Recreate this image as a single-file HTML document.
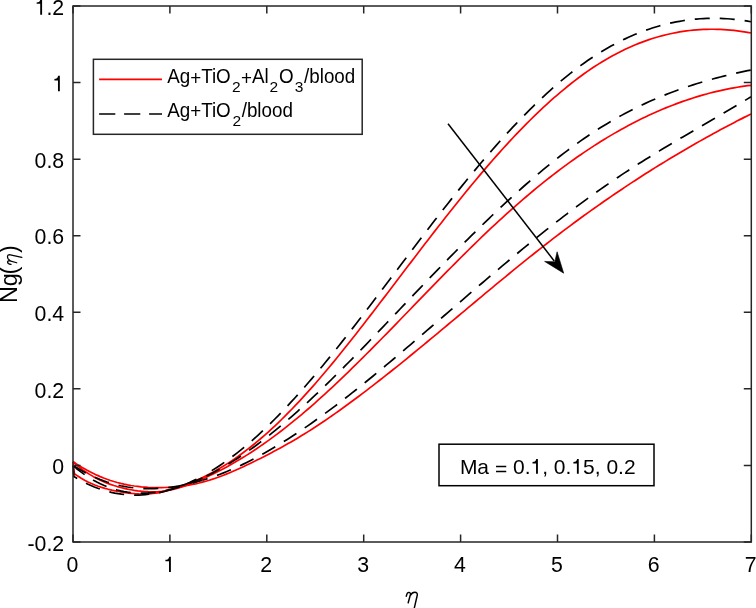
<!DOCTYPE html>
<html><head><meta charset="utf-8"><style>
html,body{margin:0;padding:0;background:#fff;width:756px;height:608px;overflow:hidden}
svg{display:block;will-change:transform}
text{font-family:'Liberation Sans',sans-serif}
</style></head><body>
<svg width="756" height="608" viewBox="0 0 756 608">
<rect x="0" y="0" width="756" height="608" fill="#fff"/>
<g fill="none" stroke-width="1.7" stroke-linejoin="round">
<path d="M73.00,461.57 L76.41,463.87 L79.81,466.05 L83.22,468.11 L86.63,470.04 L90.04,471.86 L93.44,473.56 L96.85,475.15 L100.26,476.63 L103.66,478.01 L107.07,479.28 L110.48,480.45 L113.88,481.52 L117.29,482.49 L120.70,483.37 L124.11,484.16 L127.51,484.86 L130.92,485.48 L134.33,486.01 L137.73,486.46 L141.14,486.84 L144.55,487.14 L147.95,487.37 L151.36,487.52 L154.77,487.61 L158.18,487.64 L161.58,487.61 L164.99,487.51 L168.40,487.36 L171.80,487.15 L175.21,486.88 L178.62,486.55 L182.03,486.15 L185.43,485.68 L188.84,485.14 L192.25,484.51 L195.65,483.81 L199.06,483.02 L202.47,482.15 L205.87,481.21 L209.28,480.19 L212.69,479.10 L216.10,477.94 L219.50,476.72 L222.91,475.44 L226.32,474.11 L229.72,472.72 L233.13,471.28 L236.54,469.80 L239.94,468.27 L243.35,466.70 L246.76,465.10 L250.17,463.47 L253.57,461.80 L256.98,460.11 L260.39,458.40 L263.79,456.67 L267.20,454.92 L270.61,453.14 L274.02,451.34 L277.42,449.51 L280.83,447.66 L284.24,445.77 L287.64,443.85 L291.05,441.90 L294.46,439.92 L297.86,437.90 L301.27,435.84 L304.68,433.74 L308.09,431.61 L311.49,429.44 L314.90,427.23 L318.31,425.00 L321.71,422.73 L325.12,420.43 L328.53,418.10 L331.93,415.74 L335.34,413.35 L338.75,410.94 L342.16,408.50 L345.56,406.03 L348.97,403.55 L352.38,401.04 L355.78,398.51 L359.19,395.96 L362.60,393.39 L366.01,390.81 L369.41,388.20 L372.82,385.58 L376.23,382.94 L379.63,380.28 L383.04,377.61 L386.45,374.93 L389.85,372.23 L393.26,369.51 L396.67,366.79 L400.08,364.05 L403.48,361.30 L406.89,358.54 L410.30,355.76 L413.70,352.98 L417.11,350.19 L420.52,347.39 L423.92,344.59 L427.33,341.77 L430.74,338.95 L434.15,336.12 L437.55,333.29 L440.96,330.46 L444.37,327.62 L447.77,324.77 L451.18,321.93 L454.59,319.08 L457.99,316.23 L461.40,313.38 L464.81,310.53 L468.22,307.68 L471.62,304.83 L475.03,301.98 L478.44,299.13 L481.84,296.29 L485.25,293.45 L488.66,290.62 L492.07,287.79 L495.47,284.97 L498.88,282.15 L502.29,279.34 L505.69,276.54 L509.10,273.74 L512.51,270.96 L515.91,268.18 L519.32,265.42 L522.73,262.66 L526.14,259.92 L529.54,257.19 L532.95,254.47 L536.36,251.76 L539.76,249.07 L543.17,246.39 L546.58,243.73 L549.98,241.08 L553.39,238.45 L556.80,235.84 L560.21,233.24 L563.61,230.66 L567.02,228.10 L570.43,225.56 L573.83,223.03 L577.24,220.52 L580.65,218.03 L584.06,215.56 L587.46,213.10 L590.87,210.66 L594.28,208.23 L597.68,205.82 L601.09,203.43 L604.50,201.06 L607.90,198.70 L611.31,196.36 L614.72,194.03 L618.13,191.73 L621.53,189.43 L624.94,187.16 L628.35,184.90 L631.75,182.66 L635.16,180.43 L638.57,178.22 L641.97,176.02 L645.38,173.84 L648.79,171.68 L652.20,169.53 L655.60,167.40 L659.01,165.29 L662.42,163.19 L665.82,161.11 L669.23,159.04 L672.64,156.98 L676.05,154.95 L679.45,152.93 L682.86,150.92 L686.27,148.93 L689.67,146.95 L693.08,144.99 L696.49,143.05 L699.89,141.12 L703.30,139.20 L706.71,137.30 L710.12,135.42 L713.52,133.55 L716.93,131.69 L720.34,129.85 L723.74,128.03 L727.15,126.22 L730.56,124.42 L733.96,122.64 L737.37,120.87 L740.78,119.12 L744.19,117.38 L747.59,115.66 L751.00,113.95" stroke="#f00"/>
<path d="M73.00,461.81 L76.41,464.77 L79.81,467.52 L83.22,470.08 L86.63,472.44 L90.04,474.63 L93.44,476.64 L96.85,478.48 L100.26,480.17 L103.66,481.71 L107.07,483.11 L110.48,484.38 L113.88,485.53 L117.29,486.56 L120.70,487.49 L124.11,488.32 L127.51,489.06 L130.92,489.71 L134.33,490.29 L137.73,490.79 L141.14,491.19 L144.55,491.50 L147.95,491.70 L151.36,491.79 L154.77,491.77 L158.18,491.62 L161.58,491.34 L164.99,490.92 L168.40,490.35 L171.80,489.65 L175.21,488.82 L178.62,487.87 L182.03,486.82 L185.43,485.67 L188.84,484.45 L192.25,483.15 L195.65,481.79 L199.06,480.38 L202.47,478.91 L205.87,477.39 L209.28,475.82 L212.69,474.19 L216.10,472.51 L219.50,470.78 L222.91,468.99 L226.32,467.16 L229.72,465.28 L233.13,463.34 L236.54,461.36 L239.94,459.32 L243.35,457.24 L246.76,455.11 L250.17,452.93 L253.57,450.70 L256.98,448.43 L260.39,446.11 L263.79,443.74 L267.20,441.33 L270.61,438.88 L274.02,436.37 L277.42,433.83 L280.83,431.24 L284.24,428.60 L287.64,425.93 L291.05,423.21 L294.46,420.45 L297.86,417.64 L301.27,414.80 L304.68,411.91 L308.09,408.99 L311.49,406.03 L314.90,403.03 L318.31,399.99 L321.71,396.93 L325.12,393.82 L328.53,390.69 L331.93,387.53 L335.34,384.34 L338.75,381.12 L342.16,377.87 L345.56,374.60 L348.97,371.30 L352.38,367.98 L355.78,364.64 L359.19,361.27 L362.60,357.89 L366.01,354.49 L369.41,351.08 L372.82,347.65 L376.23,344.20 L379.63,340.74 L383.04,337.27 L386.45,333.79 L389.85,330.30 L393.26,326.80 L396.67,323.29 L400.08,319.78 L403.48,316.26 L406.89,312.74 L410.30,309.22 L413.70,305.70 L417.11,302.18 L420.52,298.66 L423.92,295.14 L427.33,291.63 L430.74,288.12 L434.15,284.62 L437.55,281.13 L440.96,277.64 L444.37,274.17 L447.77,270.71 L451.18,267.26 L454.59,263.82 L457.99,260.40 L461.40,257.00 L464.81,253.61 L468.22,250.24 L471.62,246.88 L475.03,243.55 L478.44,240.24 L481.84,236.95 L485.25,233.69 L488.66,230.45 L492.07,227.24 L495.47,224.05 L498.88,220.90 L502.29,217.77 L505.69,214.67 L509.10,211.60 L512.51,208.56 L515.91,205.56 L519.32,202.58 L522.73,199.64 L526.14,196.73 L529.54,193.85 L532.95,191.00 L536.36,188.19 L539.76,185.40 L543.17,182.66 L546.58,179.94 L549.98,177.26 L553.39,174.61 L556.80,172.00 L560.21,169.42 L563.61,166.88 L567.02,164.37 L570.43,161.90 L573.83,159.47 L577.24,157.07 L580.65,154.71 L584.06,152.38 L587.46,150.09 L590.87,147.84 L594.28,145.63 L597.68,143.45 L601.09,141.31 L604.50,139.21 L607.90,137.14 L611.31,135.12 L614.72,133.13 L618.13,131.18 L621.53,129.27 L624.94,127.39 L628.35,125.56 L631.75,123.76 L635.16,122.00 L638.57,120.28 L641.97,118.59 L645.38,116.95 L648.79,115.34 L652.20,113.77 L655.60,112.24 L659.01,110.75 L662.42,109.30 L665.82,107.89 L669.23,106.51 L672.64,105.18 L676.05,103.88 L679.45,102.62 L682.86,101.40 L686.27,100.22 L689.67,99.08 L693.08,97.98 L696.49,96.91 L699.89,95.89 L703.30,94.90 L706.71,93.96 L710.12,93.05 L713.52,92.19 L716.93,91.36 L720.34,90.57 L723.74,89.83 L727.15,89.12 L730.56,88.45 L733.96,87.82 L737.37,87.24 L740.78,86.69 L744.19,86.18 L747.59,85.71 L751.00,85.29" stroke="#f00"/>
<path d="M73.00,461.80 L74.40,473.73 L77.80,476.09 L81.20,478.24 L84.60,480.19 L88.00,481.95 L91.40,483.53 L94.80,484.96 L98.20,486.23 L101.60,487.37 L105.00,488.39 L108.40,489.30 L111.80,490.12 L115.20,490.85 L118.60,491.51 L122.00,492.11 L125.40,492.63 L128.80,493.09 L132.20,493.45 L135.60,493.73 L139.00,493.91 L142.40,493.99 L145.80,493.95 L149.20,493.80 L152.60,493.52 L156.00,493.11 L159.40,492.56 L162.80,491.86 L166.20,491.01 L169.60,490.01 L173.00,488.88 L176.40,487.67 L179.80,486.42 L183.20,485.17 L186.60,483.93 L190.00,482.67 L193.40,481.35 L196.80,479.96 L200.20,478.49 L203.60,476.92 L207.00,475.27 L210.40,473.54 L213.80,471.72 L217.20,469.82 L220.60,467.84 L224.00,465.78 L227.40,463.64 L230.80,461.42 L234.20,459.12 L237.60,456.74 L241.00,454.29 L244.40,451.76 L247.80,449.16 L251.20,446.48 L254.60,443.73 L258.00,440.91 L261.40,438.02 L264.80,435.06 L268.20,432.03 L271.60,428.93 L275.00,425.77 L278.40,422.54 L281.80,419.24 L285.20,415.88 L288.60,412.46 L292.00,408.98 L295.40,405.43 L298.80,401.82 L302.20,398.16 L305.60,394.44 L309.00,390.66 L312.40,386.83 L315.80,382.94 L319.20,379.01 L322.60,375.04 L326.00,371.01 L329.40,366.95 L332.80,362.84 L336.20,358.70 L339.60,354.52 L343.00,350.30 L346.40,346.06 L349.80,341.78 L353.20,337.48 L356.60,333.15 L360.00,328.80 L363.40,324.43 L366.80,320.03 L370.20,315.63 L373.60,311.20 L377.00,306.76 L380.40,302.32 L383.80,297.86 L387.20,293.40 L390.60,288.93 L394.00,284.47 L397.40,279.99 L400.80,275.52 L404.20,271.05 L407.60,266.59 L411.00,262.12 L414.40,257.67 L417.80,253.22 L421.20,248.78 L424.60,244.35 L428.00,239.93 L431.40,235.53 L434.80,231.14 L438.20,226.77 L441.60,222.41 L445.00,218.08 L448.40,213.76 L451.80,209.47 L455.20,205.20 L458.60,200.96 L462.00,196.74 L465.40,192.56 L468.80,188.40 L472.20,184.27 L475.60,180.18 L479.00,176.12 L482.40,172.10 L485.80,168.11 L489.20,164.17 L492.60,160.26 L496.00,156.39 L499.40,152.57 L502.80,148.79 L506.20,145.06 L509.60,141.37 L513.00,137.73 L516.40,134.14 L519.80,130.59 L523.20,127.09 L526.60,123.65 L530.00,120.25 L533.40,116.91 L536.80,113.61 L540.20,110.38 L543.60,107.19 L547.00,104.06 L550.40,100.99 L553.80,97.97 L557.20,95.02 L560.60,92.12 L564.00,89.28 L567.40,86.50 L570.80,83.78 L574.20,81.13 L577.60,78.53 L581.00,76.01 L584.40,73.54 L587.80,71.15 L591.20,68.82 L594.60,66.56 L598.00,64.36 L601.40,62.24 L604.80,60.18 L608.20,58.20 L611.60,56.28 L615.00,54.44 L618.40,52.66 L621.80,50.95 L625.20,49.30 L628.60,47.73 L632.00,46.22 L635.40,44.78 L638.80,43.40 L642.20,42.09 L645.60,40.85 L649.00,39.67 L652.40,38.56 L655.80,37.51 L659.20,36.53 L662.60,35.61 L666.00,34.75 L669.40,33.96 L672.80,33.23 L676.20,32.56 L679.60,31.96 L683.00,31.41 L686.40,30.93 L689.80,30.51 L693.20,30.15 L696.60,29.86 L700.00,29.62 L703.40,29.44 L706.80,29.32 L710.20,29.26 L713.60,29.26 L717.00,29.32 L720.40,29.43 L723.80,29.60 L727.20,29.84 L730.60,30.12 L734.00,30.47 L737.40,30.87 L740.80,31.33 L744.20,31.84 L747.60,32.41 L751.00,33.03" stroke="#f00"/>
<path d="M73.00,465.17 L76.41,467.38 L79.81,469.48 L83.22,471.45 L86.63,473.30 L90.04,475.03 L93.44,476.65 L96.85,478.16 L100.26,479.55 L103.66,480.84 L107.07,482.02 L110.48,483.10 L113.88,484.07 L117.29,484.95 L120.70,485.72 L124.11,486.40 L127.51,486.99 L130.92,487.49 L134.33,487.89 L137.73,488.21 L141.14,488.45 L144.55,488.60 L147.95,488.67 L151.36,488.66 L154.77,488.57 L158.18,488.41 L161.58,488.18 L164.99,487.87 L168.40,487.50 L171.80,487.07 L175.21,486.56 L178.62,485.99 L182.03,485.36 L185.43,484.66 L188.84,483.91 L192.25,483.09 L195.65,482.21 L199.06,481.27 L202.47,480.27" stroke="#000" stroke-dasharray="15.0 10.0" stroke-dashoffset="24.94"/><path d="M202.47,480.27 L205.87,479.22 L209.28,478.11 L212.69,476.95 L216.10,475.73 L219.50,474.45 L222.91,473.13 L226.32,471.75 L229.72,470.32 L233.13,468.84 L236.54,467.31 L239.94,465.74 L243.35,464.12 L246.76,462.45 L250.17,460.73 L253.57,458.98 L256.98,457.17 L260.39,455.33 L263.79,453.45 L267.20,451.52 L270.61,449.56 L274.02,447.55 L277.42,445.51 L280.83,443.44 L284.24,441.32 L287.64,439.17 L291.05,436.99 L294.46,434.77 L297.86,432.52 L301.27,430.24 L304.68,427.93 L308.09,425.58 L311.49,423.21 L314.90,420.80 L318.31,418.37 L321.71,415.91 L325.12,413.43 L328.53,410.92 L331.93,408.38 L335.34,405.82 L338.75,403.23 L342.16,400.62 L345.56,397.99 L348.97,395.34 L352.38,392.67 L355.78,389.97 L359.19,387.26 L362.60,384.53 L366.01,381.78 L369.41,379.02 L372.82,376.24 L376.23,373.44 L379.63,370.63 L383.04,367.81 L386.45,364.97 L389.85,362.12 L393.26,359.26 L396.67,356.39 L400.08,353.50 L403.48,350.61 L406.89,347.71 L410.30,344.81 L413.70,341.89 L417.11,338.97 L420.52,336.05 L423.92,333.12 L427.33,330.19 L430.74,327.25 L434.15,324.31 L437.55,321.37 L440.96,318.43 L444.37,315.49 L447.77,312.55 L451.18,309.61 L454.59,306.67 L457.99,303.73 L461.40,300.80 L464.81,297.86 L468.22,294.93 L471.62,292.01 L475.03,289.09 L478.44,286.17 L481.84,283.26 L485.25,280.36 L488.66,277.46 L492.07,274.57 L495.47,271.68 L498.88,268.81 L502.29,265.94 L505.69,263.08 L509.10,260.24 L512.51,257.40 L515.91,254.57 L519.32,251.76 L522.73,248.95 L526.14,246.16 L529.54,243.38 L532.95,240.62 L536.36,237.87 L539.76,235.13 L543.17,232.41 L546.58,229.70 L549.98,227.01 L553.39,224.34 L556.80,221.68 L560.21,219.05 L563.61,216.43 L567.02,213.82 L570.43,211.24 L573.83,208.68 L577.24,206.14 L580.65,203.61 L584.06,201.11 L587.46,198.63 L590.87,196.16 L594.28,193.72 L597.68,191.30 L601.09,188.89 L604.50,186.51 L607.90,184.15 L611.31,181.81 L614.72,179.49 L618.13,177.19 L621.53,174.91 L624.94,172.65 L628.35,170.42 L631.75,168.20 L635.16,166.01 L638.57,163.83 L641.97,161.68 L645.38,159.54 L648.79,157.41 L652.20,155.31 L655.60,153.22 L659.01,151.14 L662.42,149.07 L665.82,147.02 L669.23,144.98 L672.64,142.95 L676.05,140.93 L679.45,138.91 L682.86,136.91 L686.27,134.91 L689.67,132.91 L693.08,130.92 L696.49,128.93 L699.89,126.95 L703.30,124.96 L706.71,122.98 L710.12,121.00 L713.52,119.01 L716.93,117.03 L720.34,115.04 L723.74,113.04 L727.15,111.04 L730.56,109.04 L733.96,107.03 L737.37,105.01 L740.78,102.98 L744.19,100.94 L747.59,98.89 L751.00,96.83" stroke="#000" stroke-dasharray="15.0 10.0" stroke-dashoffset="9.67"/><path d="M73.00,465.61 L76.41,468.46 L79.81,471.14 L83.22,473.65 L86.63,476.00 L90.04,478.17 L93.44,480.19 L96.85,482.04 L100.26,483.74 L103.66,485.29 L107.07,486.69 L110.48,487.94 L113.88,489.05 L117.29,490.02 L120.70,490.85 L124.11,491.55 L127.51,492.12 L130.92,492.56 L134.33,492.87 L137.73,493.07 L141.14,493.15 L144.55,493.11 L147.95,492.96 L151.36,492.70 L154.77,492.34 L158.18,491.88 L161.58,491.32 L164.99,490.66 L168.40,489.91 L171.80,489.07 L175.21,488.14 L178.62,487.13 L182.03,486.04 L185.43,484.88 L188.84,483.63 L192.25,482.32 L195.65,480.93 L199.06,479.46 L202.47,477.93" stroke="#000" stroke-dasharray="15.0 10.0" stroke-dashoffset="0.32"/><path d="M202.47,477.93 L205.87,476.33 L209.28,474.65 L212.69,472.91 L216.10,471.11 L219.50,469.24 L222.91,467.30 L226.32,465.31 L229.72,463.25 L233.13,461.13 L236.54,458.95 L239.94,456.71 L243.35,454.42 L246.76,452.07 L250.17,449.67 L253.57,447.22 L256.98,444.71 L260.39,442.16 L263.79,439.55 L267.20,436.90 L270.61,434.20 L274.02,431.45 L277.42,428.66 L280.83,425.83 L284.24,422.95 L287.64,420.04 L291.05,417.08 L294.46,414.09 L297.86,411.06 L301.27,407.99 L304.68,404.89 L308.09,401.76 L311.49,398.59 L314.90,395.40 L318.31,392.17 L321.71,388.92 L325.12,385.63 L328.53,382.33 L331.93,378.99 L335.34,375.64 L338.75,372.26 L342.16,368.86 L345.56,365.43 L348.97,362.00 L352.38,358.54 L355.78,355.07 L359.19,351.58 L362.60,348.07 L366.01,344.56 L369.41,341.03 L372.82,337.50 L376.23,333.95 L379.63,330.40 L383.04,326.84 L386.45,323.27 L389.85,319.70 L393.26,316.13 L396.67,312.55 L400.08,308.98 L403.48,305.40 L406.89,301.83 L410.30,298.26 L413.70,294.69 L417.11,291.13 L420.52,287.58 L423.92,284.03 L427.33,280.48 L430.74,276.95 L434.15,273.42 L437.55,269.90 L440.96,266.39 L444.37,262.90 L447.77,259.41 L451.18,255.94 L454.59,252.48 L457.99,249.03 L461.40,245.60 L464.81,242.18 L468.22,238.78 L471.62,235.40 L475.03,232.04 L478.44,228.69 L481.84,225.36 L485.25,222.06 L488.66,218.77 L492.07,215.51 L495.47,212.27 L498.88,209.05 L502.29,205.86 L505.69,202.69 L509.10,199.55 L512.51,196.43 L515.91,193.34 L519.32,190.28 L522.73,187.25 L526.14,184.25 L529.54,181.28 L532.95,178.34 L536.36,175.43 L539.76,172.55 L543.17,169.71 L546.58,166.91 L549.98,164.13 L553.39,161.40 L556.80,158.70 L560.21,156.04 L563.61,153.41 L567.02,150.83 L570.43,148.29 L573.83,145.78 L577.24,143.32 L580.65,140.90 L584.06,138.52 L587.46,136.19 L590.87,133.90 L594.28,131.66 L597.68,129.46 L601.09,127.32 L604.50,125.21 L607.90,123.16 L611.31,121.14 L614.72,119.18 L618.13,117.25 L621.53,115.37 L624.94,113.54 L628.35,111.74 L631.75,109.99 L635.16,108.28 L638.57,106.61 L641.97,104.97 L645.38,103.38 L648.79,101.83 L652.20,100.31 L655.60,98.83 L659.01,97.39 L662.42,95.98 L665.82,94.61 L669.23,93.27 L672.64,91.97 L676.05,90.70 L679.45,89.47 L682.86,88.26 L686.27,87.09 L689.67,85.95 L693.08,84.84 L696.49,83.76 L699.89,82.71 L703.30,81.68 L706.71,80.69 L710.12,79.72 L713.52,78.78 L716.93,77.86 L720.34,76.97 L723.74,76.11 L727.15,75.27 L730.56,74.45 L733.96,73.66 L737.37,72.88 L740.78,72.13 L744.19,71.41 L747.59,70.70 L751.00,70.01" stroke="#000" stroke-dasharray="15.0 10.0" stroke-dashoffset="20.74"/><path d="M73.00,465.00 L73.90,476.40 L77.30,478.48 L80.71,480.42 L84.11,482.24 L87.51,483.93 L90.91,485.50 L94.32,486.94 L97.72,488.26 L101.12,489.46 L104.52,490.54 L107.93,491.50 L111.33,492.34 L114.73,493.07 L118.13,493.68 L121.54,494.18 L124.94,494.57 L128.34,494.85 L131.74,495.01 L135.15,495.07 L138.55,495.03 L141.95,494.88 L145.35,494.62 L148.76,494.26 L152.16,493.81 L155.56,493.25 L158.96,492.59 L162.37,491.83 L165.77,490.98 L169.17,490.04 L172.57,489.00 L175.98,487.87 L179.38,486.65 L182.78,485.33 L186.18,483.93 L189.59,482.44 L192.99,480.86 L196.39,479.20 L199.79,477.45 L203.20,475.61" stroke="#000" stroke-dasharray="15.0 10.0" stroke-dashoffset="24.68"/><path d="M203.20,475.61 L206.60,473.69 L210.00,471.69 L213.40,469.61 L216.81,467.44 L220.21,465.20 L223.61,462.88 L227.01,460.48 L230.42,458.00 L233.82,455.45 L237.22,452.82 L240.62,450.12 L244.03,447.35 L247.43,444.50 L250.83,441.59 L254.23,438.60 L257.64,435.54 L261.04,432.42 L264.44,429.23 L267.84,425.97 L271.25,422.65 L274.65,419.27 L278.05,415.82 L281.45,412.32 L284.86,408.75 L288.26,405.13 L291.66,401.45 L295.06,397.72 L298.47,393.94 L301.87,390.11 L305.27,386.23 L308.67,382.31 L312.08,378.34 L315.48,374.32 L318.88,370.27 L322.28,366.18 L325.69,362.05 L329.09,357.88 L332.49,353.68 L335.89,349.45 L339.30,345.19 L342.70,340.90 L346.10,336.58 L349.50,332.24 L352.91,327.87 L356.31,323.48 L359.71,319.07 L363.11,314.65 L366.52,310.20 L369.92,305.74 L373.32,301.27 L376.72,296.79 L380.13,292.30 L383.53,287.80 L386.93,283.30 L390.33,278.79 L393.74,274.27 L397.14,269.76 L400.54,265.25 L403.94,260.74 L407.35,256.23 L410.75,251.74 L414.15,247.25 L417.55,242.76 L420.96,238.29 L424.36,233.84 L427.76,229.40 L431.16,224.97 L434.57,220.57 L437.97,216.18 L441.37,211.82 L444.77,207.47 L448.18,203.16 L451.58,198.86 L454.98,194.60 L458.38,190.36 L461.79,186.15 L465.19,181.97 L468.59,177.82 L471.99,173.70 L475.40,169.61 L478.80,165.56 L482.20,161.55 L485.60,157.57 L489.01,153.62 L492.41,149.72 L495.81,145.86 L499.21,142.03 L502.62,138.25 L506.02,134.51 L509.42,130.82 L512.82,127.17 L516.23,123.56 L519.63,120.01 L523.03,116.50 L526.43,113.04 L529.84,109.64 L533.24,106.28 L536.64,102.98 L540.04,99.73 L543.45,96.54 L546.85,93.40 L550.25,90.32 L553.65,87.30 L557.06,84.34 L560.46,81.44 L563.86,78.60 L567.26,75.83 L570.67,73.12 L574.07,70.47 L577.47,67.89 L580.87,65.38 L584.28,62.94 L587.68,60.57 L591.08,58.26 L594.48,56.02 L597.89,53.85 L601.29,51.74 L604.69,49.71 L608.09,47.74 L611.50,45.83 L614.90,43.99 L618.30,42.22 L621.70,40.51 L625.11,38.87 L628.51,37.30 L631.91,35.78 L635.31,34.34 L638.72,32.95 L642.12,31.64 L645.52,30.38 L648.92,29.19 L652.33,28.06 L655.73,27.00 L659.13,25.99 L662.53,25.05 L665.94,24.18 L669.34,23.36 L672.74,22.61 L676.14,21.92 L679.55,21.29 L682.95,20.72 L686.35,20.21 L689.75,19.76 L693.16,19.37 L696.56,19.04 L699.96,18.77 L703.36,18.56 L706.77,18.41 L710.17,18.32 L713.57,18.29 L716.97,18.31 L720.38,18.40 L723.78,18.54 L727.18,18.74 L730.58,19.00 L733.99,19.31 L737.39,19.68 L740.79,20.11 L744.19,20.59 L747.60,21.13 L751.00,21.73" stroke="#000" stroke-dasharray="15.0 10.0" stroke-dashoffset="15.14"/>
</g>
<g stroke="#262626" stroke-width="1.5" fill="none">
<rect x="73.0" y="6.0" width="678.3" height="536.0"/>
<path d="M73.00,542.0V534.5M73.00,6.0V13.5M169.90,542.0V534.5M169.90,6.0V13.5M266.80,542.0V534.5M266.80,6.0V13.5M363.70,542.0V534.5M363.70,6.0V13.5M460.60,542.0V534.5M460.60,6.0V13.5M557.50,542.0V534.5M557.50,6.0V13.5M654.40,542.0V534.5M654.40,6.0V13.5M751.30,542.0V534.5M751.30,6.0V13.5M73.0,542.00H80.5M751.3,542.00H743.8M73.0,465.43H80.5M751.3,465.43H743.8M73.0,388.86H80.5M751.3,388.86H743.8M73.0,312.29H80.5M751.3,312.29H743.8M73.0,235.71H80.5M751.3,235.71H743.8M73.0,159.14H80.5M751.3,159.14H743.8M73.0,82.57H80.5M751.3,82.57H743.8M73.0,6.00H80.5M751.3,6.00H743.8"/>
</g>
<g font-size="21.3" fill="#000">
<g transform="matrix(1,0,0,1.03,0,-16.521)"><text x="27.50" y="550.70" font-size="21.3">-0.2</text></g><g transform="matrix(1,0,0,1.03,0,-14.224)"><text x="52.35" y="474.13" font-size="21.3">0</text></g><g transform="matrix(1,0,0,1.03,0,-11.927)"><text x="34.59" y="397.56" font-size="21.3">0.2</text></g><g transform="matrix(1,0,0,1.03,0,-9.630)"><text x="34.59" y="320.99" font-size="21.3">0.4</text></g><g transform="matrix(1,0,0,1.03,0,-7.332)"><text x="34.59" y="244.41" font-size="21.3">0.6</text></g><g transform="matrix(1,0,0,1.03,0,-5.035)"><text x="34.59" y="167.84" font-size="21.3">0.8</text></g><g transform="matrix(1,0,0,1.03,0,-2.738)"><path transform="matrix(0.02130,0,0,-0.02130,52.35,91.27)" d="M352,0 L264,0 L264,496 L96,496 L96,560 C190,562 252,586 273,703 L352,703 Z"/></g><g transform="matrix(1,0,0,1.03,0,-0.441)"><path transform="matrix(0.02130,0,0,-0.02130,34.59,14.70)" d="M352,0 L264,0 L264,496 L96,496 L96,560 C190,562 252,586 273,703 L352,703 Z"/><text x="46.44" y="14.70" font-size="21.3">.2</text></g>
<g transform="matrix(1,0,0,1.03,0,-17.163)"><text x="66.48" y="572.10" font-size="21.3">0</text></g><g transform="matrix(1,0,0,1.03,0,-17.163)"><path transform="matrix(0.02130,0,0,-0.02130,163.38,572.10)" d="M352,0 L264,0 L264,496 L96,496 L96,560 C190,562 252,586 273,703 L352,703 Z"/></g><g transform="matrix(1,0,0,1.03,0,-17.163)"><text x="260.28" y="572.10" font-size="21.3">2</text></g><g transform="matrix(1,0,0,1.03,0,-17.163)"><text x="357.18" y="572.10" font-size="21.3">3</text></g><g transform="matrix(1,0,0,1.03,0,-17.163)"><text x="454.08" y="572.10" font-size="21.3">4</text></g><g transform="matrix(1,0,0,1.03,0,-17.163)"><text x="550.98" y="572.10" font-size="21.3">5</text></g><g transform="matrix(1,0,0,1.03,0,-17.163)"><text x="647.88" y="572.10" font-size="21.3">6</text></g><g transform="matrix(1,0,0,1.03,0,-17.163)"><text x="744.78" y="572.10" font-size="21.3">7</text></g>
</g>
<!-- legend -->
<rect x="93.4" y="59.3" width="268.8" height="75" fill="#fff" stroke="#262626" stroke-width="1.5"/>
<line x1="99.1" y1="79.4" x2="162" y2="79.4" stroke="#f00" stroke-width="1.7"/>
<line x1="99.1" y1="114" x2="162" y2="114" stroke="#000" stroke-width="1.55" stroke-dasharray="16.2 8.8"/>
<g fill="#000"><g transform="matrix(1,0,0,1.036,0,-2.981)"><text x="167.16" y="82.80" font-size="18.8">Ag</text><text x="190.16" y="84.53" font-size="18.8">+</text><text x="201.14" y="82.80" font-size="18.8">TiO</text></g><text x="232.02" y="92.00" font-size="15.5">2</text><g transform="matrix(1,0,0,1.036,0,-2.981)"><text x="241.08" y="84.53" font-size="18.8">+</text><text x="252.06" y="82.80" font-size="18.8">Al</text></g><text x="269.62" y="92.00" font-size="15.5">2</text><g transform="matrix(1,0,0,1.036,0,-2.981)"><text x="279.01" y="82.80" font-size="18.8">O</text></g><text x="294.81" y="92.00" font-size="15.5">3</text><g transform="matrix(1,0,0,1.036,0,-2.981)"><text x="304.10" y="82.80" font-size="18.8">/blood</text></g><g transform="matrix(1,0,0,1.036,0,-4.198)"><text x="167.16" y="116.60" font-size="18.8">Ag</text><text x="190.16" y="118.33" font-size="18.8">+</text><text x="201.14" y="116.60" font-size="18.8">TiO</text></g><text x="232.42" y="125.60" font-size="15.5">2</text><g transform="matrix(1,0,0,1.036,0,-4.198)"><text x="241.70" y="116.60" font-size="18.8">/blood</text></g></g>
<!-- annotation -->
<rect x="439" y="444.2" width="215" height="41.5" fill="#fff" stroke="#000" stroke-width="1.5"/>
<g fill="#000"><text x="459.88" y="473.80" font-size="21.0">Ma</text><text x="494.88" y="475.50" font-size="21.0">=</text><text x="512.98" y="473.80" font-size="21.0">0.</text><path transform="matrix(0.02100,0,0,-0.02100,530.50,473.80)" d="M352,0 L264,0 L264,496 L96,496 L96,560 C190,562 252,586 273,703 L352,703 Z"/><text x="542.18" y="473.80" font-size="21.0">, 0.</text><path transform="matrix(0.02100,0,0,-0.02100,571.36,473.80)" d="M352,0 L264,0 L264,496 L96,496 L96,560 C190,562 252,586 273,703 L352,703 Z"/><text x="583.04" y="473.80" font-size="21.0">5, 0.2</text></g>
<!-- arrow -->
<line x1="448.0" y1="123.75" x2="554.21" y2="260.94" stroke="#000" stroke-width="1.5"/>
<path d="M563.70,273.20 L557.09,251.76 L554.82,261.73 L544.60,261.43 Z" fill="#000" stroke="#000" stroke-width="0.6" stroke-linejoin="miter"/>
<!-- axis labels -->
<path d="M406.30,596.20 C406.80,593.50 408.00,592.20 409.20,592.40 C410.30,592.60 410.60,593.60 410.30,595.00 L408.20,602.70 M410.60,595.20 C411.50,593.30 413.00,592.20 414.80,592.20 C416.80,592.20 417.60,593.60 417.20,595.50 L414.20,608.50" fill="none" stroke="#000" stroke-width="1.45" stroke-linecap="round" stroke-linejoin="round"/>
<g transform="translate(16.8,273.9) rotate(-90)" fill="#000" font-size="23.5">
<text x="-29.03" y="0">N</text><text x="-12.29" y="0">g</text><text x="-0.51" y="0">(</text><text x="20.91" y="0">)</text>
<path d="M9.48,-5.81 C9.92,-8.18 10.97,-9.33 12.03,-9.15 C13.00,-8.98 13.26,-8.10 13.00,-6.86 L11.15,-0.09 M13.26,-6.69 C14.05,-8.36 15.37,-9.33 16.96,-9.33 C18.72,-9.33 19.42,-8.10 19.07,-6.42 L16.43,5.02" fill="none" stroke="#000" stroke-width="1.28" stroke-linecap="round" stroke-linejoin="round"/>
</g>
</svg>
</body></html>
